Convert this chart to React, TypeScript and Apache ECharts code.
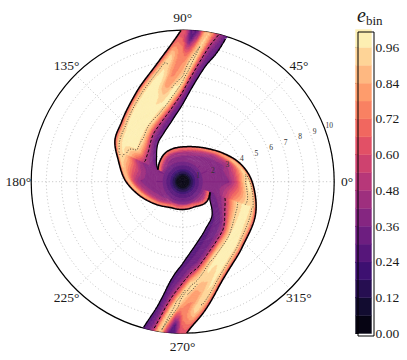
import React, { useEffect, useRef } from "react";
import * as echarts from "echarts";

// ---------------- colour levels (contourf levels 0 .. 1.02 step 0.06) ----------------
const levelStep = 0.06;
const levelTop = 1.02;
const colorbarTickValues = [0, 0.12, 0.24, 0.36, 0.48, 0.6, 0.72, 0.84, 0.96];
const angleTickValues = [0, 45, 90, 135, 180, 225, 270, 315];
const radiusLabelValues = [1, 2, 3, 4, 5, 6, 7, 8, 9, 10];
const magmaStops = ["#000004", "#140e36", "#3b0f70", "#641a80", "#8c2981", "#b73779", "#de4968", "#f7705c", "#fe9f6d", "#fecf92", "#fcfdbf"];

// ---------------- arm edges (theta in degrees, unwrapped; r in radius units) ----------------
const arm1OuterTheta = [68, 76.7, 82.1, 90.6, 100.0, 117.1, 135.5, 148.4, 161.4, 178.3, 194.2, 216.3, 250.5, 292.5, 320.2, 339.9];
const arm1OuterR = [20.5, 15.7, 12.77, 10.0, 8.27, 6.67, 5.65, 5.25, 4.49, 3.81, 3.13, 2.41, 1.86, 1.83, 2.06, 1.92];
const arm1InnerTheta = [70.3, 73.1, 79.0, 88.4, 98, 110, 122, 136, 147, 154.7];
const arm1InnerR = [13.4, 10.0, 7.73, 5.39, 4.25, 3.5, 3.05, 2.4, 2.05, 1.8];

const arm2OuterTheta = [248, 256.7, 262.1, 271.5, 278.1, 291.3, 311.5, 337, 350.9, 364.2, 377.8, 395, 414.3, 443.5, 478.1, 500, 514.7];
const arm2OuterR = [20.5, 15.7, 12.77, 10.0, 8.89, 7.08, 5.87, 5.24, 4.83, 4.46, 3.97, 3.27, 2.71, 2.33, 2.24, 2.0, 1.8];
const arm2InnerTheta = [250, 254.9, 258.5, 262.8, 270, 279, 295, 311, 326, 339.9];
const arm2InnerR = [13.4, 10.0, 8.4, 6.65, 5.4, 4.45, 3.5, 2.95, 2.17, 1.92];

// ---------------- e_bin across each arm (f = 0 inner edge .. 1 outer edge) ----------------
const profileF = [0, 0.08, 0.16, 0.24, 0.32, 0.4, 0.5, 0.6, 0.7, 0.8, 0.88, 0.94, 1];
const arm1Stations = [72, 80, 84, 87, 90, 95, 100, 106, 116, 130, 145, 155];
const arm1Profile = [
  [0.28, 0.32, 0.40, 0.55, 0.70, 0.85, 0.93, 0.93, 0.90, 0.85, 0.80, 0.70, 0.62],
  [0.28, 0.33, 0.43, 0.60, 0.80, 0.90, 0.88, 0.80, 0.70, 0.70, 0.75, 0.70, 0.62],
  [0.28, 0.33, 0.45, 0.68, 0.90, 0.95, 0.80, 0.45, 0.28, 0.40, 0.60, 0.65, 0.62],
  [0.28, 0.33, 0.47, 0.73, 0.93, 0.97, 0.82, 0.60, 0.30, 0.28, 0.45, 0.60, 0.62],
  [0.28, 0.34, 0.50, 0.82, 0.97, 0.90, 0.80, 0.76, 0.74, 0.70, 0.65, 0.62, 0.62],
  [0.28, 0.34, 0.50, 0.82, 0.97, 0.97, 0.80, 0.76, 0.80, 0.90, 0.90, 0.80, 0.62],
  [0.28, 0.33, 0.48, 0.78, 0.97, 0.97, 0.85, 0.82, 0.95, 0.97, 0.94, 0.82, 0.62],
  [0.29, 0.33, 0.46, 0.72, 0.95, 0.97, 0.95, 0.97, 0.98, 0.98, 0.95, 0.84, 0.62],
  [0.30, 0.34, 0.44, 0.66, 0.90, 0.97, 0.98, 0.98, 0.98, 0.98, 0.95, 0.84, 0.62],
  [0.31, 0.34, 0.42, 0.58, 0.80, 0.94, 0.98, 0.98, 0.98, 0.98, 0.95, 0.84, 0.62],
  [0.33, 0.35, 0.40, 0.50, 0.66, 0.85, 0.96, 0.98, 0.98, 0.97, 0.95, 0.86, 0.62],
  [0.36, 0.38, 0.40, 0.42, 0.46, 0.52, 0.62, 0.78, 0.90, 0.96, 0.96, 0.90, 0.62],
];
const arm2Stations = [252, 260, 264, 267, 270, 275, 280, 286, 296, 310, 325, 340];
const arm2Profile = [
  [0.27, 0.30, 0.34, 0.42, 0.58, 0.75, 0.90, 0.93, 0.90, 0.85, 0.80, 0.70, 0.62],
  [0.27, 0.30, 0.35, 0.45, 0.62, 0.85, 0.92, 0.85, 0.75, 0.72, 0.75, 0.70, 0.62],
  [0.27, 0.30, 0.35, 0.46, 0.66, 0.90, 0.95, 0.60, 0.30, 0.35, 0.55, 0.65, 0.62],
  [0.27, 0.30, 0.35, 0.47, 0.68, 0.93, 0.95, 0.55, 0.25, 0.30, 0.50, 0.62, 0.62],
  [0.27, 0.30, 0.34, 0.45, 0.70, 0.95, 0.90, 0.78, 0.75, 0.70, 0.65, 0.62, 0.62],
  [0.27, 0.29, 0.32, 0.40, 0.62, 0.90, 0.97, 0.80, 0.78, 0.90, 0.90, 0.80, 0.62],
  [0.27, 0.29, 0.31, 0.35, 0.48, 0.78, 0.96, 0.88, 0.85, 0.95, 0.94, 0.82, 0.62],
  [0.27, 0.29, 0.31, 0.34, 0.42, 0.68, 0.95, 0.97, 0.92, 0.97, 0.95, 0.84, 0.62],
  [0.27, 0.29, 0.31, 0.33, 0.38, 0.55, 0.88, 0.98, 0.98, 0.98, 0.95, 0.84, 0.62],
  [0.28, 0.30, 0.32, 0.34, 0.40, 0.52, 0.80, 0.96, 0.98, 0.98, 0.95, 0.84, 0.62],
  [0.30, 0.32, 0.34, 0.37, 0.44, 0.56, 0.78, 0.94, 0.97, 0.97, 0.95, 0.86, 0.62],
  [0.34, 0.36, 0.38, 0.42, 0.50, 0.64, 0.82, 0.93, 0.96, 0.97, 0.96, 0.90, 0.62],
];

// ---------------- e_bin in the central region (depth d below an arm's outer edge) ----------------
const coreDepth = [0, 0.08, 0.16, 0.25, 0.35, 0.5, 0.7, 1.0, 1.5, 2.0, 2.5, 3.0];
const coreStations = [64, 88, 110, 130, 170, 250]; // degrees past the arm's outer-edge start
const core1Profile = [
  [0.62, 0.80, 0.90, 0.94, 0.96, 0.96, 0.91, 0.78, 0.52, 0.41, 0.37, 0.36],
  [0.62, 0.85, 0.90, 0.86, 0.75, 0.60, 0.50, 0.42, 0.38, 0.36, 0.36, 0.36],
  [0.62, 0.82, 0.85, 0.78, 0.65, 0.52, 0.45, 0.40, 0.37, 0.36, 0.36, 0.36],
  [0.60, 0.78, 0.75, 0.62, 0.52, 0.45, 0.41, 0.38, 0.36, 0.36, 0.36, 0.36],
  [0.58, 0.72, 0.66, 0.56, 0.48, 0.43, 0.40, 0.37, 0.36, 0.36, 0.36, 0.36],
  [0.58, 0.72, 0.66, 0.56, 0.48, 0.43, 0.40, 0.37, 0.36, 0.36, 0.36, 0.36],
];
const core2Profile = [
  [0.62, 0.82, 0.90, 0.94, 0.96, 0.97, 0.97, 0.96, 0.88, 0.64, 0.44, 0.36],
  [0.62, 0.85, 0.95, 0.97, 0.96, 0.92, 0.80, 0.60, 0.42, 0.37, 0.36, 0.36],
  [0.62, 0.82, 0.88, 0.85, 0.72, 0.56, 0.46, 0.40, 0.37, 0.36, 0.36, 0.36],
  [0.60, 0.78, 0.75, 0.62, 0.52, 0.45, 0.41, 0.38, 0.36, 0.36, 0.36, 0.36],
  [0.58, 0.72, 0.66, 0.56, 0.48, 0.43, 0.40, 0.37, 0.36, 0.36, 0.36, 0.36],
  [0.58, 0.72, 0.66, 0.56, 0.48, 0.43, 0.40, 0.37, 0.36, 0.36, 0.36, 0.36],
];
const centreR = [0, 0.35, 0.5, 0.6, 0.75, 0.9, 1.1, 1.3, 1.5, 1.8];
const centreE = [0, 0.03, 0.08, 0.14, 0.2, 0.25, 0.3, 0.34, 0.4, 1.0];

// ---------------- helpers ----------------
function hexToRgb(h: string) {
  return [parseInt(h.slice(1, 3), 16), parseInt(h.slice(3, 5), 16), parseInt(h.slice(5, 7), 16)];
}
function magma(t: number) {
  const x = Math.max(0, Math.min(1, t)) * (magmaStops.length - 1);
  const i = Math.min(magmaStops.length - 2, Math.floor(x));
  const u = x - i;
  const a = hexToRgb(magmaStops[i]);
  const b = hexToRgb(magmaStops[i + 1]);
  const c = a.map((v, k) => Math.round(v + (b[k] - v) * u));
  return `rgb(${c[0]},${c[1]},${c[2]})`;
}
const nBands = Math.round(levelTop / levelStep);
const bandColors = Array.from({ length: nBands }, (_, i) => magma(((i + 0.5) * levelStep) / levelTop));

function monotoneSpline(xs: number[], ys: number[]) {
  const n = xs.length;
  const d: number[] = [];
  for (let k = 0; k < n - 1; k++) d.push((ys[k + 1] - ys[k]) / (xs[k + 1] - xs[k]));
  const m: number[] = new Array(n);
  m[0] = d[0];
  m[n - 1] = d[n - 2];
  for (let k = 1; k < n - 1; k++) m[k] = d[k - 1] * d[k] <= 0 ? 0 : (d[k - 1] + d[k]) / 2;
  for (let k = 0; k < n - 1; k++) {
    if (d[k] === 0) { m[k] = 0; m[k + 1] = 0; continue; }
    const a = m[k] / d[k], b = m[k + 1] / d[k];
    const s = a * a + b * b;
    if (s > 9) { const t = 3 / Math.sqrt(s); m[k] = t * a * d[k]; m[k + 1] = t * b * d[k]; }
  }
  return (x: number) => {
    if (x < xs[0] || x > xs[n - 1]) return NaN;
    let k = 0;
    while (k < n - 2 && x > xs[k + 1]) k++;
    const h = xs[k + 1] - xs[k];
    const t = (x - xs[k]) / h;
    const t2 = t * t, t3 = t2 * t;
    return (2 * t3 - 3 * t2 + 1) * ys[k] + (t3 - 2 * t2 + t) * h * m[k] + (-2 * t3 + 3 * t2) * ys[k + 1] + (t3 - t2) * h * m[k + 1];
  };
}
function locate(xs: number[], x: number) {
  if (x <= xs[0]) return [0, 0];
  if (x >= xs[xs.length - 1]) return [xs.length - 2, 1];
  let i = 0;
  while (x > xs[i + 1]) i++;
  return [i, (x - xs[i]) / (xs[i + 1] - xs[i])];
}
function table2(rowKeys: number[], colKeys: number[], rows: number[][], rk: number, ck: number) {
  const [i, u] = locate(rowKeys, rk);
  const [j, v] = locate(colKeys, ck);
  const a = rows[i][j] * (1 - v) + rows[i][j + 1] * v;
  const b = rows[i + 1][j] * (1 - v) + rows[i + 1][j + 1] * v;
  return a * (1 - u) + b * u;
}
function interp1(xs: number[], ys: number[], x: number) {
  const [i, u] = locate(xs, x);
  return ys[i] * (1 - u) + ys[i + 1] * u;
}

type Arm = {
  oe: (x: number) => number; oeMin: number; oeMax: number;
  ie: (x: number) => number; ieMin: number; ieMax: number;
  stations: number[]; profile: number[][]; core: number[][]; start: number;
};
const arms: Arm[] = [
  {
    oe: monotoneSpline(arm1OuterTheta, arm1OuterR), oeMin: arm1OuterTheta[0], oeMax: arm1OuterTheta[arm1OuterTheta.length - 1],
    ie: monotoneSpline(arm1InnerTheta, arm1InnerR), ieMin: arm1InnerTheta[0], ieMax: arm1InnerTheta[arm1InnerTheta.length - 1],
    stations: arm1Stations, profile: arm1Profile, core: core1Profile, start: arm1OuterTheta[3],
  },
  {
    oe: monotoneSpline(arm2OuterTheta, arm2OuterR), oeMin: arm2OuterTheta[0], oeMax: arm2OuterTheta[arm2OuterTheta.length - 1],
    ie: monotoneSpline(arm2InnerTheta, arm2InnerR), ieMin: arm2InnerTheta[0], ieMax: arm2InnerTheta[arm2InnerTheta.length - 1],
    stations: arm2Stations, profile: arm2Profile, core: core2Profile, start: arm2OuterTheta[3],
  },
];

function coreValue(k: number, u: number, r: number, roe: number) {
  const arm = arms[k];
  const d = roe - r;
  const a = u - arm.start;
  return Math.min(table2(coreStations, coreDepth, arm.core, a, d), interp1(centreR, centreE, r));
}

function field(r: number, th: number): number | null {
  for (let k = 0; k < arms.length; k++) {
    const arm = arms[k];
    for (const u of [th, th + 360]) {
      if (u < arm.oeMin || u > arm.oeMax || u < arm.ieMin) continue;
      const roe = arm.oe(u);
      if (r > roe) continue;
      if (u <= arm.ieMax) {
        const rie = arm.ie(u);
        if (r < rie) continue;
        const f = (r - rie) / (roe - rie);
        return table2(arm.stations, profileF, arm.profile, u, f);
      }
      return coreValue(k, u, r, roe);
    }
  }
  return null;
}
function bandOf(e: number | null) {
  if (e === null) return -1;
  return Math.max(0, Math.min(nBands - 1, Math.floor(e / levelStep)));
}

function buildCells() {
  const cells: number[][] = [];
  const dr = 0.05, dt = 0.5;
  const nR = Math.round(10 / dr), nT = Math.round(360 / dt);
  for (let i = 0; i < nR; i++) {
    const r0 = i * dr, r1 = r0 + dr, rc = r0 + dr / 2;
    let runStart = 0;
    let runBand = bandOf(field(rc, dt / 2));
    for (let j = 1; j <= nT; j++) {
      const b = j < nT ? bandOf(field(rc, j * dt + dt / 2)) : -2;
      if (b !== runBand) {
        if (runBand >= 0) cells.push([r0, r1, runStart * dt, j * dt, runBand]);
        runStart = j;
        runBand = b;
      }
    }
  }
  return cells;
}

function edgeLine(fn: (x: number) => number, uMin: number, uMax: number) {
  const pts: number[][] = [];
  for (let u = uMin; u <= uMax + 1e-9; u += 0.5) {
    const r = fn(u);
    if (r <= 10.001) pts.push([Math.min(r, 10), ((u % 360) + 360) % 360]);
  }
  return pts;
}

function traceArm(arm: Arm, level: number, fromInner: boolean) {
  const segs: number[][][] = [];
  let cur: number[][] = [];
  let lastR = NaN;
  for (let u = arm.ieMin; u <= arm.ieMax; u += 0.5) {
    const rie = arm.ie(u), roe = arm.oe(u);
    let found = -1;
    if (fromInner) {
      for (let f = 0; f <= 1; f += 0.004) if (table2(arm.stations, profileF, arm.profile, u, f) >= level) { found = f; break; }
    } else {
      for (let f = 1; f >= 0; f -= 0.004) if (table2(arm.stations, profileF, arm.profile, u, f) >= level) { found = f; break; }
    }
    const r = rie + found * (roe - rie);
    if (found < 0 || r > 10 || (cur.length && Math.abs(r - lastR) > 0.3)) {
      if (cur.length > 1) segs.push(cur);
      cur = [];
      if (found < 0 || r > 10) { lastR = NaN; continue; }
    }
    cur.push([r, ((u % 360) + 360) % 360]);
    lastR = r;
  }
  if (cur.length > 1) segs.push(cur);
  return segs;
}

function traceCore(k: number, level: number, fromEdge: boolean) {
  const arm = arms[k];
  const segs: number[][][] = [];
  let cur: number[][] = [];
  let lastR = NaN;
  for (let u = arm.ieMax; u <= arm.oeMax; u += 0.5) {
    const roe = arm.oe(u);
    let found = NaN;
    if (fromEdge) {
      for (let d = 0; d <= roe; d += 0.01) if (coreValue(k, u, roe - d, roe) >= level) { found = roe - d; break; }
    } else {
      for (let d = roe; d >= 0; d -= 0.01) if (coreValue(k, u, roe - d, roe) >= level) { found = roe - d; break; }
    }
    if (isNaN(found) || (cur.length && Math.abs(found - lastR) > 0.3)) {
      if (cur.length > 1) segs.push(cur);
      cur = [];
      if (isNaN(found)) { lastR = NaN; continue; }
    }
    cur.push([found, ((u % 360) + 360) % 360]);
    lastR = found;
  }
  if (cur.length > 1) segs.push(cur);
  return segs;
}

const serif = "'Liberation Serif', 'DejaVu Serif', serif";

function buildOption() {
  const cells = buildCells();
  const series: any[] = [];

  series.push({
    type: "custom",
    coordinateSystem: "polar",
    silent: true,
    z: 2,
    data: cells,
    renderItem: (params: any, api: any) => {
      const r0 = api.value(0), r1 = api.value(1), t0 = api.value(2), t1 = api.value(3), b = api.value(4);
      const c = api.coord([0, 0]);
      const pA = api.coord([r1, t0]);
      const pB = api.coord([r1, t1]);
      const pC = api.coord([r0, t0]);
      const R1 = Math.hypot(pA[0] - c[0], pA[1] - c[1]);
      const R0 = r0 === 0 ? 0 : Math.hypot(pC[0] - c[0], pC[1] - c[1]);
      const a0 = Math.atan2(pA[1] - c[1], pA[0] - c[0]);
      const s = Math.atan2(pB[1] - c[1], pB[0] - c[0]);
      let e = a0;
      while (e <= s + 1e-9) e += Math.PI * 2;
      if (t1 - t0 < 359.9 && e - s > Math.PI * 2 - 1e-6) e -= Math.PI * 2;
      const col = bandColors[b];
      return {
        type: "sector",
        shape: { cx: c[0], cy: c[1], r0: R0, r: R1, startAngle: s, endAngle: e, clockwise: true },
        style: { fill: col, stroke: col, lineWidth: 0.5 },
      };
    },
  });

  const lineSeries = (data: number[][], lineStyle: any, z = 5) => ({
    type: "line",
    coordinateSystem: "polar",
    data,
    showSymbol: false,
    symbol: "none",
    silent: true,
    z,
    lineStyle,
  });

  const dotted = { color: "#1a1a1a", width: 0.8, type: [1, 1.6] };
  const dashed = { color: "#000", width: 1, type: [3, 2] };
  arms.forEach((arm, k) => {
    traceArm(arm, 0.5, true).forEach((s) => series.push(lineSeries(s, dashed)));
    traceArm(arm, 0.93, true).forEach((s) => series.push(lineSeries(s, dotted)));
    traceArm(arm, 0.93, false).forEach((s) => series.push(lineSeries(s, dotted)));
    traceCore(k, 0.93, true).forEach((s) => series.push(lineSeries(s, dotted)));
    traceCore(k, 0.93, false).forEach((s) => series.push(lineSeries(s, dotted)));
    const solid = { color: "#000", width: 1.5, type: "solid" };
    series.push(lineSeries(edgeLine(arm.oe, arm.start, arm.oeMax), solid, 6));
    series.push(lineSeries(edgeLine(arm.ie, arm.ieMin, arm.ieMax), { ...solid, width: 1.2 }, 6));
  });

  // colour bar
  const bands = Array.from({ length: nBands }, (_, i) => [i * levelStep, (i + 1) * levelStep, i]);
  series.push({
    type: "custom",
    coordinateSystem: "cartesian2d",
    xAxisIndex: 0,
    yAxisIndex: 0,
    silent: true,
    data: bands,
    renderItem: (params: any, api: any) => {
      const lo = api.value(0), hi = api.value(1), i = api.value(2);
      const p0 = api.coord([0, hi]);
      const p1 = api.coord([1, lo]);
      return {
        type: "rect",
        shape: { x: p0[0], y: p0[1], width: p1[0] - p0[0], height: p1[1] - p0[1] },
        style: { fill: bandColors[i], stroke: bandColors[i], lineWidth: 0.4 },
      };
    },
  });

  return {
    animation: false,
    backgroundColor: "#fff",
    polar: { center: [182.7, 181.7], radius: 151.5 },
    angleAxis: {
      type: "value",
      min: 0,
      max: 360,
      interval: 45,
      startAngle: 0,
      clockwise: false,
      axisLine: { show: true, lineStyle: { color: "#000", width: 1.2 } },
      axisTick: { show: false },
      axisLabel: { show: false },
      splitLine: { show: true, lineStyle: { color: "#b0b0b0", width: 0.8, type: [1, 2.5] } },
    },
    radiusAxis: {
      type: "value",
      min: 0,
      max: 10,
      interval: 1,
      axisLine: { show: false },
      axisTick: { show: false },
      axisLabel: { show: false },
      splitLine: { show: true, lineStyle: { color: "#b0b0b0", width: 0.8, type: [1, 2.5] } },
    },
    grid: { left: 355.5, top: 29.5, width: 16, height: 304 },
    xAxis: { type: "value", min: 0, max: 1, show: false },
    yAxis: {
      type: "value",
      min: 0,
      max: levelTop,
      interval: 0.12,
      position: "right",
      axisLine: { show: false },
      splitLine: { show: false },
      axisTick: { show: true, length: 3, inside: false, customValues: colorbarTickValues, lineStyle: { color: "#000", width: 1 } },
      axisLabel: {
        margin: 4,
        fontSize: 13.5,
        color: "#1a1a1a",
        fontFamily: serif,
        customValues: colorbarTickValues,
        formatter: (v: number) => v.toFixed(2),
      },
    },
    series,
  };
}

function buildGraphic(chart: any) {
  const g: any[] = [];
  const centre = chart.convertToPixel({ seriesIndex: 0 }, [0, 0]);
  // angle labels, centred at a fixed radius outside the circle
  angleTickValues.forEach((v) => {
    const p = chart.convertToPixel({ seriesIndex: 0 }, [10.85, v]);
    g.push({
      type: "text", x: p[0], y: p[1], z: 100,
      style: { text: `${v}°`, font: `13.5px ${serif}`, fill: "#1a1a1a", align: "center", verticalAlign: "middle" },
    });
  });
  // radial labels along 21 degrees
  radiusLabelValues.forEach((v) => {
    const p = chart.convertToPixel({ seriesIndex: 0 }, [v, 21]);
    const dx = p[0] - centre[0], dy = p[1] - centre[1];
    const L = Math.hypot(dx, dy) || 1;
    const push = 1 + 0.45 * v;
    g.push({
      type: "text", x: p[0] + (dx / L) * push, y: p[1] + (dy / L) * push, z: 100,
      style: { text: String(v), font: `7.5px ${serif}`, fill: "#333", align: "center", verticalAlign: "middle" },
    });
  });
  g.push({ type: "rect", left: 355.5, top: 29.5, shape: { width: 16, height: 304 }, style: { fill: "none", stroke: "#000", lineWidth: 1 }, z: 100 });
  g.push({ type: "text", x: 357, y: 5, style: { text: "e", font: `italic 20px ${serif}`, fill: "#1a1a1a" }, z: 100 });
  g.push({ type: "text", x: 366, y: 13.5, style: { text: "bin", font: `13px ${serif}`, fill: "#1a1a1a" }, z: 100 });
  return g;
}

export default function App() {
  const ref = useRef<HTMLDivElement>(null);
  useEffect(() => {
    const chart = echarts.init(ref.current!, null, { renderer: "svg" });
    chart.setOption(buildOption() as any);
    chart.setOption({ graphic: buildGraphic(chart) } as any);
    return () => chart.dispose();
  }, []);
  return <div ref={ref} style={{ position: "absolute", left: 0, top: 0, width: 407, height: 360 }} />;
}
